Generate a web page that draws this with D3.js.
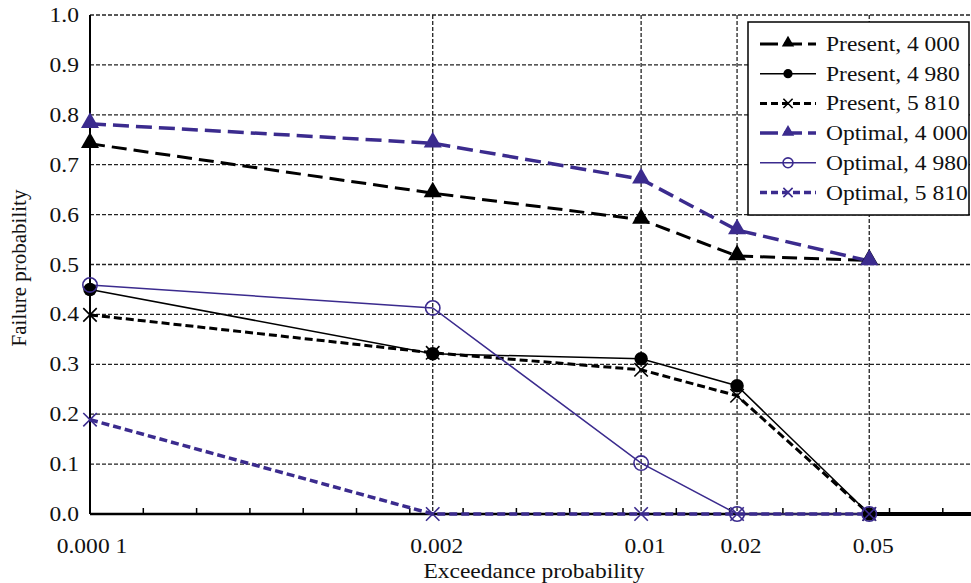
<!DOCTYPE html>
<html>
<head>
<meta charset="utf-8">
<script src="https://cdn.jsdelivr.net/npm/d3@7"></script>
<style>
  body { margin: 0; background: #fff; }
</style>
</head>
<body>
<div id="chart"></div>
<script>
// data
let xTicks = [0.0001, 0.002, 0.01, 0.02, 0.05];
let xTickLabels = ["0.000 1", "0.002", "0.01", "0.02", "0.05"];
let yTicks = [0, 0.1, 0.2, 0.3, 0.4, 0.5, 0.6, 0.7, 0.8, 0.9, 1.0];

let present4000 = [0.742, 0.643, 0.590, 0.517, 0.508];
let present4980 = [0.450, 0.321, 0.311, 0.257, 0.0];
let present5810 = [0.399, 0.323, 0.289, 0.237, 0.0];
let optimal4000 = [0.782, 0.743, 0.671, 0.569, 0.507];
let optimal4980 = [0.459, 0.413, 0.102, 0.0, 0.0];
let optimal5810 = [0.189, 0.0, 0.0, 0.0, 0.0];

let seriesNames = ["Present, 4 000", "Present, 4 980", "Present, 5 810",
                   "Optimal, 4 000", "Optimal, 4 980", "Optimal, 5 810"];

const purple = "#3b2b8e";
const width = 971, height = 583;
const mLeft = 90, mTop = 15, mBottom = 514, mRight = 985;
const stretch = 1.12;   // text in the figure is a bit wide
const serif = "'Liberation Serif', 'Times New Roman', serif";

// the x axis is not a plain log axis: minor ticks are evenly spaced and
// the labelled values sit at these tick units
let unit = d3.scaleLinear().domain([0, 1]).range([mLeft, mLeft + 53.3]);
let tickUnits = [0, 6.43, 10.34, 12.14, 14.62];
let x = d3.scaleLog().domain(xTicks).range(tickUnits.map(unit));
let y = d3.scaleLinear().domain([0, 1]).range([mBottom, mTop]);

let styles = [
  {data: present4000, color: "#000", w: 3,   dash: "15,7", marker: "tri"},
  {data: present4980, color: "#000", w: 1.5, dash: null,   marker: "dot"},
  {data: present5810, color: "#000", w: 3,   dash: "8,4",  marker: "x"},
  {data: optimal4000, color: purple, w: 3.5, dash: "16,7", marker: "tri"},
  {data: optimal4980, color: purple, w: 1.5, dash: null,   marker: "ring"},
  {data: optimal5810, color: purple, w: 3.5, dash: "8,4",  marker: "x"}
];

let svg = d3.select("#chart").append("svg")
  .attr("width", width).attr("height", height)
  .attr("font-family", serif);

// grid
svg.append("g").selectAll("line").data(yTicks.filter(d => d > 0)).enter()
  .append("line")
  .attr("x1", mLeft).attr("x2", mRight)
  .attr("y1", d => y(d)).attr("y2", d => y(d))
  .attr("stroke", "#222").attr("stroke-width", 1.3).attr("stroke-dasharray", "4,2");

svg.append("g").selectAll("line").data(xTicks.slice(1)).enter()
  .append("line")
  .attr("x1", d => x(d)).attr("x2", d => x(d))
  .attr("y1", mTop).attr("y2", mBottom)
  .attr("stroke", "#222").attr("stroke-width", 1.3).attr("stroke-dasharray", "4,2");

// minor ticks along the bottom
svg.append("g").selectAll("line").data(d3.range(1, 18)).enter()
  .append("line")
  .attr("x1", d => unit(d)).attr("x2", d => unit(d))
  .attr("y1", mBottom).attr("y2", mBottom - 6)
  .attr("stroke", "#000").attr("stroke-width", 1.5);

// axes lines
svg.append("line").attr("x1", mLeft).attr("x2", mLeft).attr("y1", mTop).attr("y2", mBottom)
  .attr("stroke", "#000").attr("stroke-width", 2);
svg.append("line").attr("x1", mLeft).attr("x2", mRight).attr("y1", mBottom).attr("y2", mBottom)
  .attr("stroke", "#000").attr("stroke-width", 2.5);
svg.append("line").attr("x1", x(0.05)).attr("x2", mRight).attr("y1", mBottom).attr("y2", mBottom)
  .attr("stroke", "#000").attr("stroke-width", 4);

// tick labels
svg.append("g").selectAll("text").data(yTicks).enter()
  .append("text")
  .attr("transform", d => `translate(79,${y(d) + 7}) scale(${stretch},1)`)
  .attr("text-anchor", "end")
  .attr("font-size", 21)
  .attr("fill", "#111")
  .text(d => d.toFixed(1));

svg.append("g").selectAll("text").data(xTicks).enter()
  .append("text")
  .attr("transform", (d, i) => `translate(${x(d) + (i == 0 ? 2 : 4)},553) scale(${stretch},1)`)
  .attr("text-anchor", "middle")
  .attr("font-size", 21)
  .attr("fill", "#111")
  .text((d, i) => xTickLabels[i]);

svg.append("text")
  .attr("transform", `translate(534,578) scale(${stretch},1)`)
  .attr("text-anchor", "middle").attr("font-size", 21)
  .attr("fill", "#111")
  .text("Exceedance probability");

svg.append("text")
  .attr("transform", "translate(26,268) rotate(-90)")
  .attr("text-anchor", "middle").attr("font-size", 21)
  .attr("fill", "#111")
  .text("Failure probability");

function drawMarker(g, kind, color, cx, cy, s) {
  if (kind == "tri") {
    g.append("path")
      .attr("d", d3.symbol().type(d3.symbolTriangle).size(s * s * 0.55)())
      .attr("transform", `translate(${cx},${cy - 1})`)
      .attr("fill", color);
  } else if (kind == "dot") {
    g.append("circle").attr("cx", cx).attr("cy", cy).attr("r", s * 0.42).attr("fill", color);
  } else if (kind == "ring") {
    g.append("circle").attr("cx", cx).attr("cy", cy).attr("r", s * 0.45)
      .attr("fill", "none").attr("stroke", color).attr("stroke-width", 1.6);
  } else {
    let h = s * 0.42;
    g.append("path")
      .attr("d", `M${cx - h},${cy - h}L${cx + h},${cy + h}M${cx - h},${cy + h}L${cx + h},${cy - h}`)
      .attr("stroke", color).attr("stroke-width", 1.6).attr("fill", "none");
  }
}

let line = d3.line().x((d, i) => x(xTicks[i])).y(d => y(d));

let plot = svg.append("g");
styles.forEach(s => {
  plot.append("path")
    .attr("d", line(s.data))
    .attr("fill", "none")
    .attr("stroke", s.color)
    .attr("stroke-width", s.w)
    .attr("stroke-dasharray", s.dash);
});
styles.forEach(s => {
  s.data.forEach((v, i) => drawMarker(plot, s.marker, s.color, x(xTicks[i]), y(v), 16));
});

// legend
let lg = svg.append("g");
lg.append("rect").attr("x", 748).attr("y", 22).attr("width", 221).attr("height", 193)
  .attr("fill", "#fff").attr("stroke", "#000").attr("stroke-width", 1.5);

styles.forEach((s, i) => {
  let ly = 44 + i * 29.7;
  lg.append("line").attr("x1", 760).attr("x2", 816).attr("y1", ly).attr("y2", ly)
    .attr("stroke", s.color).attr("stroke-width", s.w)
    .attr("stroke-dasharray", s.dash == null ? null : (s.dash == "8,4" ? "7,4" : "18,6"));
  drawMarker(lg, s.marker, s.color, 788, ly, 11);
  lg.append("text")
    .attr("transform", `translate(826,${ly + 7}) scale(${stretch},1)`)
    .attr("font-size", 21)
    .attr("fill", "#111")
    .text(seriesNames[i]);
});
</script>
</body>
</html>
